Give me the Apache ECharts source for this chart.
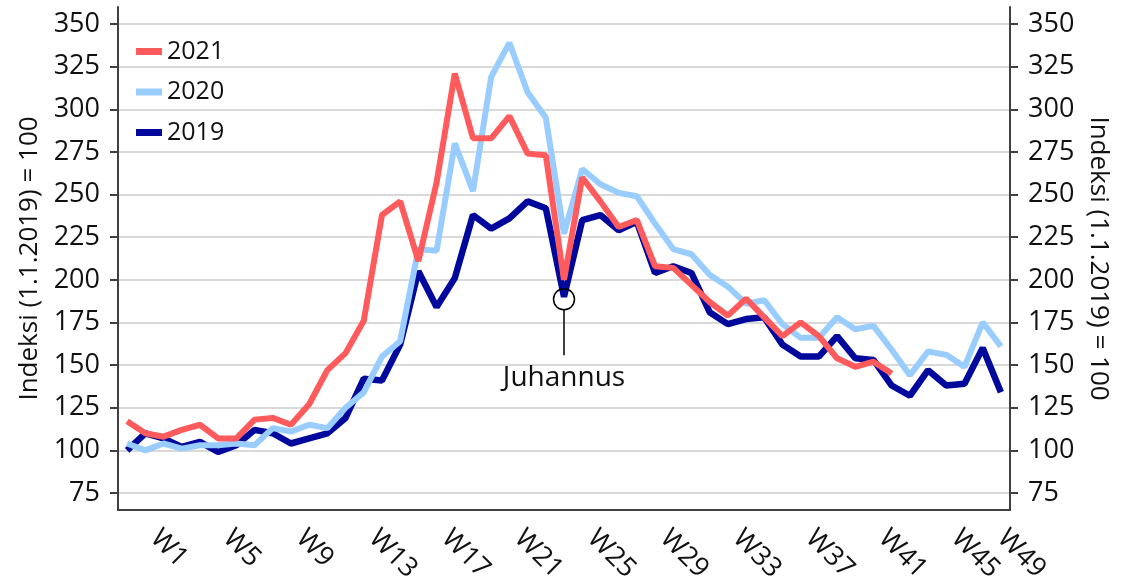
<!DOCTYPE html>
<html>
<head>
<meta charset="utf-8">
<script src="https://cdn.jsdelivr.net/npm/echarts@6.0.0/dist/echarts.min.js"></script>
<style>
html, body { margin: 0; padding: 0; background: #fff; }
#chart { width: 1133px; height: 583px; }
</style>
</head>
<body>
<div id="chart"></div>
<script>
var weeks = ['W1', 'W2', 'W3', 'W4', 'W5', 'W6', 'W7', 'W8', 'W9', 'W10',
    'W11', 'W12', 'W13', 'W14', 'W15', 'W16', 'W17', 'W18', 'W19', 'W20',
    'W21', 'W22', 'W23', 'W24', 'W25', 'W26', 'W27', 'W28', 'W29', 'W30',
    'W31', 'W32', 'W33', 'W34', 'W35', 'W36', 'W37', 'W38', 'W39', 'W40',
    'W41', 'W42', 'W43', 'W44', 'W45', 'W46', 'W47', 'W48', 'W49'];

var yTicks = [75, 100, 125, 150, 175, 200, 225, 250, 275, 300, 325, 350];

var y2021 = [117, 110, 108, 112, 115, 107, 107, 118, 119, 115,
    127, 147, 157, 176, 238, 246, 211, 257, 321, 283,
    283, 296, 274, 273, 200, 260, 246, 231, 235, 208,
    207, 197, 187, 179, 189, 178, 167, 175, 167, 154,
    149, 152, 145];

var y2020 = [104, 100, 104, 101, 103, 103, 104, 103, 113, 111,
    115, 113, 125, 134, 155, 164, 218, 217, 280, 252,
    319, 339, 310, 295, 227, 265, 256, 251, 249, 233,
    218, 215, 203, 196, 186, 188, 174, 166, 166, 178,
    171, 173, 159, 144, 158, 156, 149, 175, 161];

var y2019 = [100, 110, 107, 102, 105, 99, 103, 112, 110, 104,
    107, 110, 119, 142, 141, 162, 205, 184, 201, 238,
    230, 236, 246, 242, 190, 235, 238, 229, 234, 204,
    208, 204, 181, 174, 177, 178, 162, 155, 155, 167,
    154, 153, 138, 132, 147, 138, 139, 160, 134];

// Juhannus (midsummer) note on the 2019 dip
var noteWeek = 'W25';
var noteCircle = 188.6;
var noteFrom = 182.3;
var noteTo = 155.7;

var FONT = '"Open Sans", "Noto Sans", sans-serif';
var TEXT = '#111';
var AXIS = '#404040';

function valueAxis(pos) {
    return {
        type: 'value',
        position: pos,
        min: 65,
        max: 360,
        name: 'Indeksi (1.1.2019) = 100',
        nameLocation: 'middle',
        nameGap: pos === 'left' ? 68 : 66,
        nameRotate: pos === 'left' ? 90 : -90,
        nameTextStyle: { fontFamily: FONT, fontSize: 26, color: TEXT },
        axisLine: { show: true, lineStyle: { color: AXIS, width: 2 } },
        axisTick: { show: true, length: 8, customValues: yTicks, lineStyle: { color: AXIS, width: 2 } },
        axisLabel: { customValues: yTicks, margin: 18, fontFamily: FONT, fontSize: 27, color: TEXT },
        splitLine: { show: pos === 'left', lineStyle: { color: '#cccccc', width: 1.5 } }
    };
}

// the last week label sits squeezed in against the right axis
var lastWeek = weeks[weeks.length - 1];
var weekCats = weeks.map(function (w) {
    if (w === lastWeek) {
        return { value: w, textStyle: { padding: [0, 0, 0, 20], lineHeight: 38 } };
    }
    return w;
});

var chart = echarts.init(document.getElementById('chart'));

var option = {
    animation: false,
    backgroundColor: '#fff',
    grid: { left: 118, right: 123, top: 7, bottom: 73, outerBoundsMode: 'none' },
    legend: {
        orient: 'vertical',
        left: 136,
        top: 39,
        padding: 0,
        itemWidth: 26,
        itemHeight: 7,
        itemGap: 15.5,
        icon: 'rect',
        data: ['2021', '2020', '2019'],
        itemStyle: { borderWidth: 0 },
        textStyle: { fontFamily: FONT, fontSize: 25, color: TEXT }
    },
    xAxis: {
        type: 'category',
        data: weekCats,
        boundaryGap: true,
        axisLine: { onZero: false, lineStyle: { color: AXIS, width: 2 } },
        axisTick: { interval: 3, length: 7, lineStyle: { color: AXIS, width: 2 } },
        axisLabel: {
            interval: 3,
            rotate: -45,
            margin: -3.5,
            padding: [0, 0, 0, 39],
            fontFamily: FONT,
            fontSize: 27,
            color: TEXT,
            formatter: function (v) {
                return v === lastWeek ? '\n' + v : v;
            }
        },
        splitLine: { show: false }
    },
    yAxis: [valueAxis('left'), valueAxis('right')],
    series: [{
        name: '2019',
        type: 'line',
        data: y2019,
        symbol: 'none',
        color: '#00099b',
        lineStyle: { width: 6.5, color: '#00099b' },
        markPoint: {
            silent: true,
            symbol: 'circle',
            symbolSize: 21,
            itemStyle: { color: 'rgba(0,0,0,0)', borderColor: '#000', borderWidth: 1.5 },
            label: { show: false },
            data: [{ coord: [noteWeek, noteCircle] }]
        },
        markLine: {
            silent: true,
            symbol: ['none', 'none'],
            lineStyle: { color: '#000', width: 1.5, type: 'solid' },
            label: {
                show: true,
                position: 'end',
                distance: 9,
                formatter: 'Juhannus',
                fontFamily: FONT,
                fontSize: 28,
                color: TEXT
            },
            data: [[{ coord: [noteWeek, noteFrom] }, { coord: [noteWeek, noteTo] }]]
        }
    }, {
        name: '2020',
        type: 'line',
        data: y2020,
        symbol: 'none',
        color: '#99ccff',
        lineStyle: { width: 6, color: '#99ccff' }
    }, {
        name: '2021',
        type: 'line',
        data: y2021,
        symbol: 'none',
        color: '#ff5a5c',
        lineStyle: { width: 6, color: '#ff5a5c' }
    }]
};

chart.setOption(option);
</script>
</body>
</html>
